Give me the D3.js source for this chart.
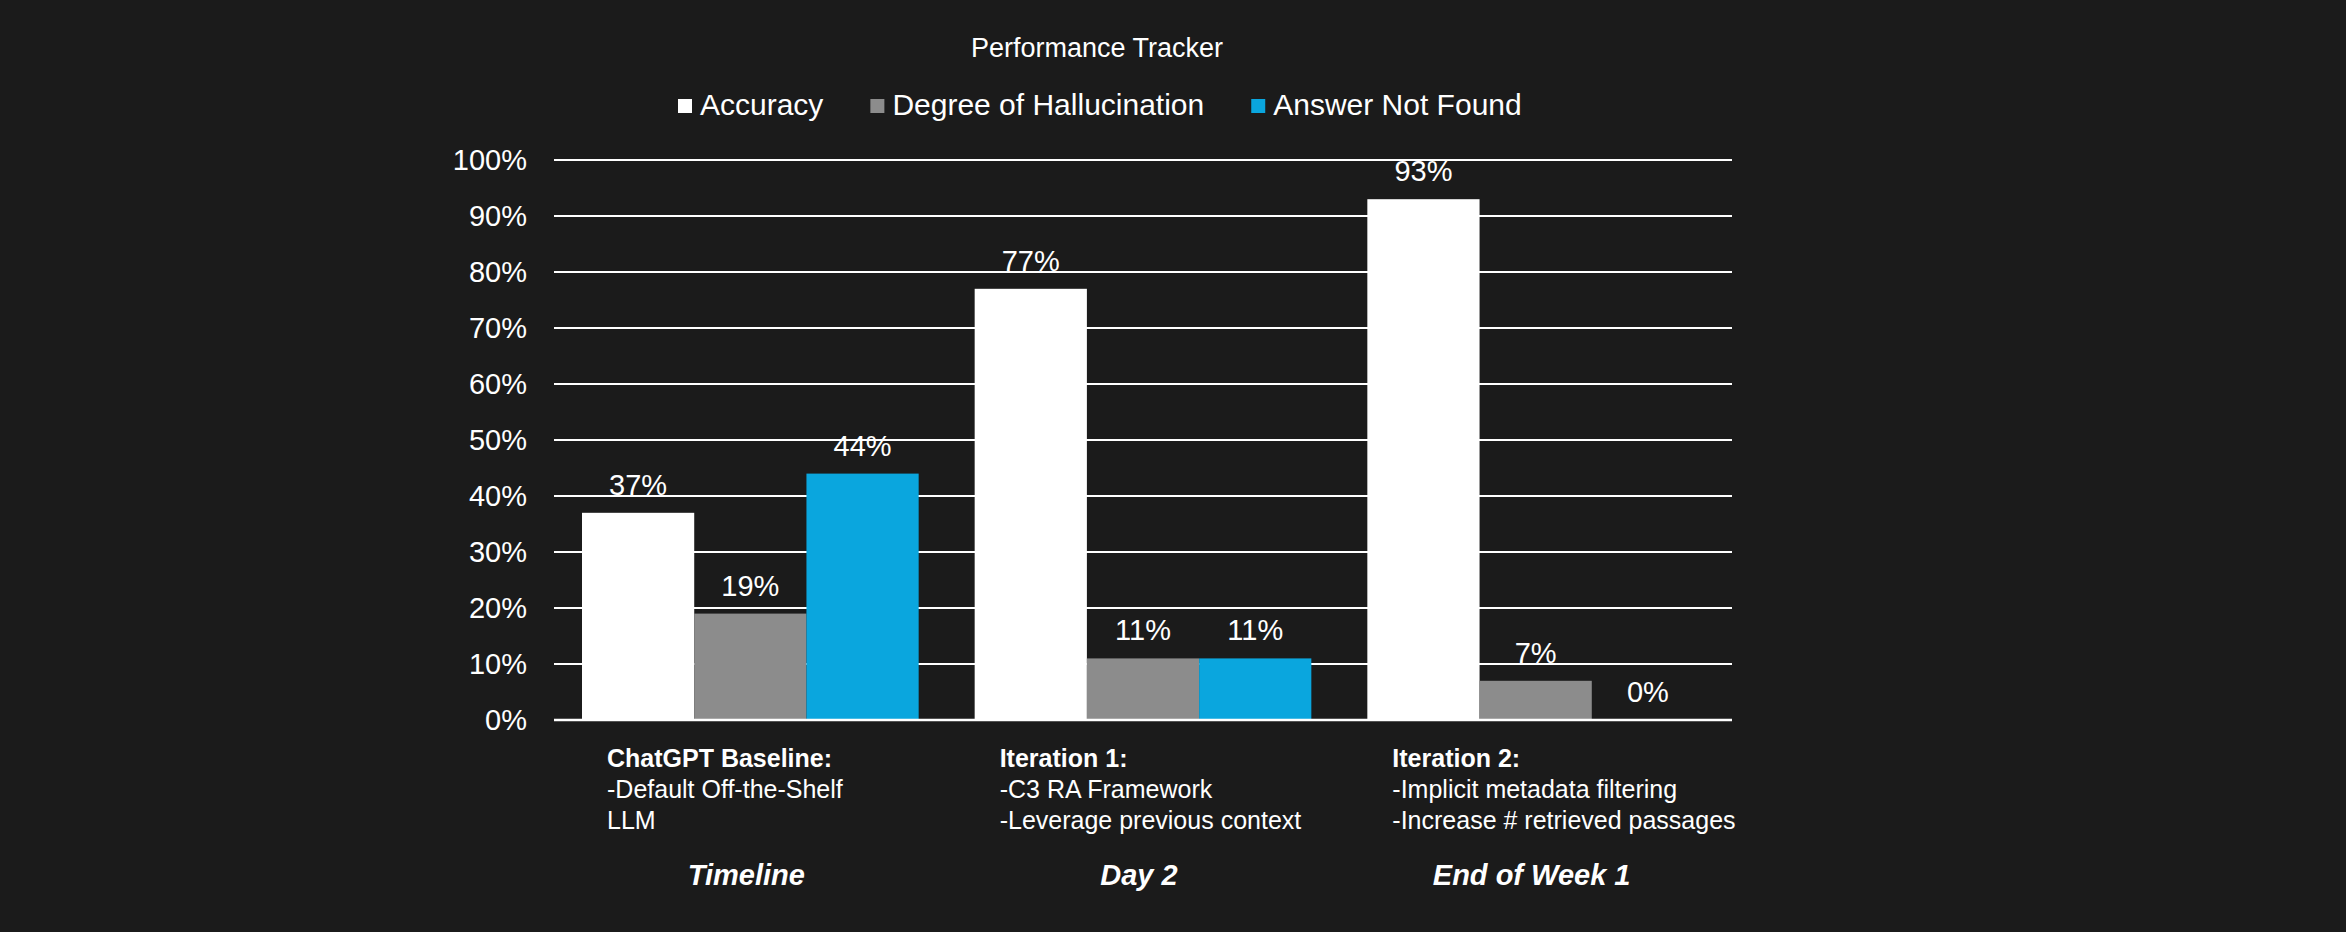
<!DOCTYPE html>
<html>
<head>
<meta charset="utf-8">
<script src="https://cdn.jsdelivr.net/npm/d3@7"></script>
<style>
  html, body { margin: 0; padding: 0; background: #1b1b1b; }
  svg { display: block; font-family: "Liberation Sans", Arial, sans-serif; }
</style>
</head>
<body>
<svg id="chart" width="2346" height="932"></svg>
<script>
// chart data
const categories = ["Timeline", "Day 2", "End of Week 1"]
const headers = ["ChatGPT Baseline:", "Iteration 1:", "Iteration 2:"]
const details = [
  ["-Default Off-the-Shelf", "LLM"],
  ["-C3 RA Framework", "-Leverage previous context"],
  ["-Implicit metadata filtering", "-Increase # retrieved passages"]
]
const seriesNames = ["Accuracy", "Degree of Hallucination", "Answer Not Found"]
const accuracy = [37, 77, 93]
const hallucination = [19, 11, 7]
const notFound = [44, 11, 0]
const yTicks = [0, 10, 20, 30, 40, 50, 60, 70, 80, 90, 100]

const colors = ["#ffffff", "#8c8c8c", "#0aa6de"]
const series = [accuracy, hallucination, notFound]

const svg = d3.select('#chart')
const W = 2346, H = 932
svg.append('rect').attr('width', W).attr('height', H).attr('fill', '#1b1b1b')

const plotLeft = 554, plotRight = 1732, plotTop = 160, plotBottom = 720

let x0 = d3.scaleBand().domain(categories).range([plotLeft, plotRight]).padding(0)
let x1 = d3.scaleBand().domain(seriesNames).range([28, x0.bandwidth() - 28]).padding(0)
let y = d3.scaleLinear().domain([0, 100]).range([plotBottom, plotTop])

// gridlines
svg.append('g')
  .selectAll('line')
  .data(yTicks)
  .enter()
  .append('line')
  .attr('x1', plotLeft).attr('x2', plotRight)
  .attr('y1', d => y(d)).attr('y2', d => y(d))
  .attr('stroke', '#ffffff')
  .attr('stroke-width', 2)

// y tick labels
svg.append('g')
  .selectAll('text')
  .data(yTicks)
  .enter()
  .append('text')
  .attr('x', 527)
  .attr('y', d => y(d))
  .attr('dy', '0.36em')
  .attr('text-anchor', 'end')
  .attr('fill', '#ffffff')
  .style('font-size', '29px')
  .text(d => d + '%')

// bars
let groups = svg.append('g')
  .selectAll('g')
  .data(categories)
  .enter()
  .append('g')
  .attr('transform', d => `translate(${x0(d)},0)`)

groups.selectAll('rect')
  .data((c, i) => seriesNames.map((s, j) => ({ s: s, v: series[j][i], color: colors[j] })))
  .enter()
  .append('rect')
  .attr('x', d => x1(d.s))
  .attr('width', x1.bandwidth())
  .attr('y', d => y(d.v))
  .attr('height', d => y(0) - y(d.v))
  .attr('fill', d => d.color)

groups.selectAll('text.val')
  .data((c, i) => seriesNames.map((s, j) => ({ s: s, v: series[j][i] })))
  .enter()
  .append('text')
  .attr('class', 'val')
  .attr('x', d => x1(d.s) + x1.bandwidth() / 2)
  .attr('y', d => y(d.v) - 18)
  .attr('text-anchor', 'middle')
  .attr('fill', '#ffffff')
  .style('font-size', '29px')
  .text(d => d.v + '%')

// baseline
svg.append('line')
  .attr('x1', plotLeft).attr('x2', plotRight)
  .attr('y1', y(0)).attr('y2', y(0))
  .attr('stroke', '#ffffff')
  .attr('stroke-width', 2.5)

// category descriptions
let cat = svg.append('g')
  .selectAll('g')
  .data(categories)
  .enter()
  .append('g')
  .attr('transform', d => `translate(${x0(d)},0)`)

cat.append('text')
  .attr('x', 53)
  .attr('y', 767)
  .attr('fill', '#ffffff')
  .style('font-size', '25px')
  .style('font-weight', 'bold')
  .text((d, i) => headers[i])

cat.each(function(d, i){
  d3.select(this).selectAll('text.det')
    .data(details[i])
    .enter()
    .append('text')
    .attr('class', 'det')
    .attr('x', 53)
    .attr('y', (t, k) => 798 + k * 31)
    .attr('fill', '#ffffff')
    .style('font-size', '25px')
    .text(t => t)
})

cat.append('text')
  .attr('x', x0.bandwidth() / 2 - 4)
  .attr('y', 885)
  .attr('text-anchor', 'middle')
  .attr('fill', '#ffffff')
  .style('font-size', '29px')
  .style('font-weight', 'bold')
  .style('font-style', 'italic')
  .text(d => d)

// title
svg.append('text')
  .attr('x', 1097)
  .attr('y', 57)
  .attr('text-anchor', 'middle')
  .attr('fill', '#ffffff')
  .style('font-size', '27px')
  .text('Performance Tracker')

// legend
let lx = 678
seriesNames.forEach((s, j) => {
  svg.append('rect')
    .attr('x', lx).attr('y', 99)
    .attr('width', 14).attr('height', 14)
    .attr('fill', colors[j])
  let t = svg.append('text')
    .attr('x', lx + 22)
    .attr('y', 115)
    .attr('fill', '#ffffff')
    .style('font-size', '30px')
    .text(s)
  lx = lx + 22 + t.node().getComputedTextLength() + 47
})
</script>
</body>
</html>
